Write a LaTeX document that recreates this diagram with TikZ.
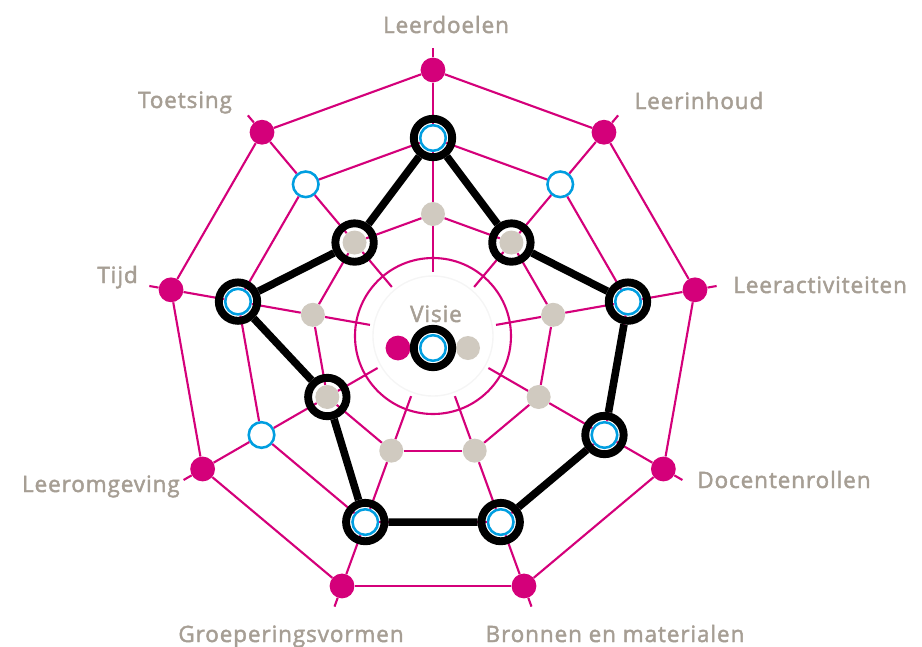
\documentclass[tikz,border=0pt]{standalone}
\usepackage{fontspec}
\setmainfont{Open Sans}
\newfontfamily\spinfont[LetterSpace=4, FakeBold=2]{Open Sans}
\usepackage{xcolor}
\definecolor{webMagenta}{RGB}{212,0,122}
\definecolor{ringBlue}{RGB}{0,158,224}
\definecolor{dotGrey}{RGB}{208,202,192}
\definecolor{labelGrey}{RGB}{166,158,148}
\usepackage{tikz}
\usetikzlibrary{calc}
\tikzstyle{webline}=[draw=webMagenta, line width=1.5pt]
\tikzstyle{outerdot}=[circle, fill=webMagenta, minimum size=0.62cm, inner sep=0pt]
\tikzstyle{bluering}=[circle, draw=ringBlue, fill=white, line width=1.8pt, minimum size=0.64cm, inner sep=0pt]
\tikzstyle{greydot}=[circle, fill=dotGrey, minimum size=0.6cm, inner sep=0pt]
\tikzstyle{chosen}=[circle, draw=black, line width=5.6pt, minimum size=0.96cm, inner sep=0pt]
\tikzstyle{chosenline}=[draw=black, line width=5.4pt, line join=round]
\tikzstyle{spokelabel}=[text=labelGrey, font=\spinfont\fontsize{16}{19}\selectfont, inner sep=0pt]

\begin{document}
\begin{tikzpicture}[x=0.025cm, y=0.025cm]
    \useasboundingbox (-433,-310) rectangle (489,336);

    % Cirkels rond Visie
    \draw[black!4, line width=1pt] (0,0) circle (60);
    \draw[webline] (0,0) circle (78);

    % Knooppunten op de negen spaken
    \foreach \i in {0,...,8} {
      \coordinate (c\i) at ({90-40*\i}:64);
      \coordinate (e\i) at ({90-40*\i}:288);
      \node[greydot]   (g\i) at ({90-40*\i}:122) {};
      \node[bluering]  (b\i) at ({90-40*\i}:198) {};
      \node[outerdot]  (o\i) at ({90-40*\i}:266) {};
    }

    % Spaken en ringen
    \foreach \i in {0,...,8} {
      \pgfmathtruncatemacro\j{mod(\i+1,9)}
      \draw[webline] (c\i) -- (g\i) -- (b\i) -- (o\i) -- (e\i);
      \draw[webline] (g\i) -- (g\j);
      \draw[webline] (b\i) -- (b\j);
      \draw[webline] (o\i) -- (o\j);
    }

    % Gekozen posities
    \foreach \n/\i in {b/0,g/1,b/2,b/3,b/4,b/5,g/6,b/7,g/8} {
      \node[chosen] (k\i) at (\n\i) {};
    }
    \draw[chosenline] (k0) -- (k1) -- (k2) -- (k3) -- (k4) -- (k5) -- (k6) -- (k7) -- (k8) -- (k0);

    % Visie in het midden
    \node[spokelabel, anchor=base] (visie) at (3,14) {Visie};
    \node[outerdot] (vm) at (-35,-12) {};
    \node[bluering] (vb) at (0,-12) {};
    \node[greydot]  (vg) at (35,-12) {};
    \node[chosen]   (vk) at (vb) {};

    % Namen van de spaken
    \node[spokelabel, anchor=base]       (l0) at (13,303)    {Leerdoelen};
    \node[spokelabel, anchor=base]       (l1) at (266,227)   {Leerinhoud};
    \node[spokelabel, anchor=base west]  (l2) at (300,43)    {Leeractiviteiten};
    \node[spokelabel, anchor=base west]  (l3) at (264,-152)  {Docentenrollen};
    \node[spokelabel, anchor=base]       (l4) at (182,-306)  {Bronnen en materialen};
    \node[spokelabel, anchor=base]       (l5) at (-142,-306) {Groeperingsvormen};
    \node[spokelabel, anchor=base east]  (l6) at (-253,-156) {Leeromgeving};
    \node[spokelabel, anchor=base east]  (l7) at (-295,53)   {Tijd};
    \node[spokelabel, anchor=base]       (l8) at (-248,228)  {Toetsing};
\end{tikzpicture}
\end{document}
